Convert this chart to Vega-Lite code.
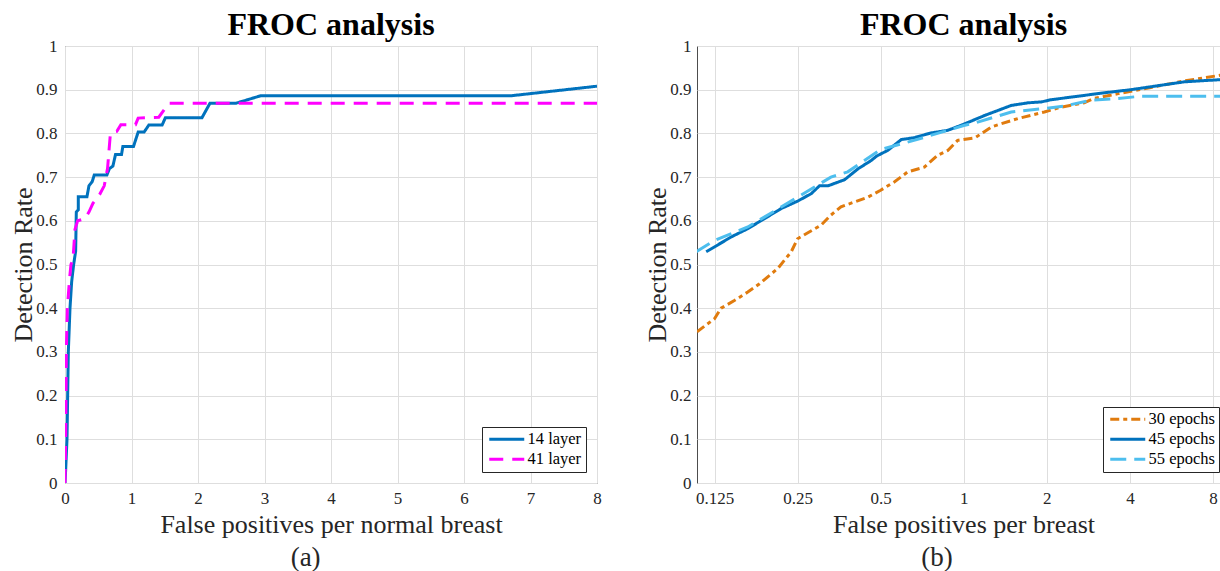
{
  "$schema": "https://vega.github.io/schema/vega-lite/v6.json",
  "padding": {"left": 9, "top": 8, "right": 0, "bottom": 0},
  "background": "white",
  "spacing": 41,
  "resolve": {
    "scale": {"x": "independent", "y": "independent", "color": "independent", "strokeDash": "independent"},
    "legend": {"color": "independent", "strokeDash": "independent"}
  },
  "config": {
    "font": "Liberation Serif",
    "view": {"stroke": "#4d4d4d", "strokeWidth": 1},
    "axis": {
      "labelFont": "Liberation Serif", "labelFontSize": 17, "labelColor": "#262626",
      "titleFont": "Liberation Serif", "titleFontWeight": "normal", "titleColor": "#262626", "titleFontSize": 26,
      "gridColor": "#dedede", "gridWidth": 1, "domain": false, "ticks": false, "labelFlush": false
    },
    "title": {"font": "Liberation Serif", "fontSize": 32, "fontWeight": "bold", "color": "black", "baseline": "alphabetic", "offset": -5},
    "legend": {
      "orient": "bottom-right", "offset": 11, "fillColor": "white", "strokeColor": "#262626",
      "padding": 4, "symbolType": "M-1,0H6", "symbolSize": 100, "symbolStrokeWidth": 3,
      "labelFont": "Liberation Serif", "labelFontSize": 16.5, "labelColor": "black", "labelOffset": 25,
      "rowPadding": 3, "title": null, "cornerRadius": 0
    }
  },
  "hconcat": [
    {
      "title": {"text": "(a)", "orient": "bottom", "anchor": "middle", "baseline": "top", "fontWeight": "normal", "fontSize": 27, "color": "#262626", "offset": 7},
      "resolve": {
        "scale": {"color": "independent", "strokeDash": "independent"},
        "legend": {"color": "independent", "strokeDash": "independent"}
      },
      "vconcat": [
        {
          "width": 532, "height": 437,
          "title": "FROC analysis",
          "data": {"values": [
            {"i":0,"model":"14 layer","fp":0,"rate":0},
            {"i":1,"model":"14 layer","fp":0.01,"rate":0.03},
            {"i":2,"model":"14 layer","fp":0.03,"rate":0.1},
            {"i":3,"model":"14 layer","fp":0.05,"rate":0.3},
            {"i":4,"model":"14 layer","fp":0.075,"rate":0.4},
            {"i":5,"model":"14 layer","fp":0.1,"rate":0.46},
            {"i":6,"model":"14 layer","fp":0.13,"rate":0.5},
            {"i":7,"model":"14 layer","fp":0.16,"rate":0.53},
            {"i":8,"model":"14 layer","fp":0.17,"rate":0.62},
            {"i":9,"model":"14 layer","fp":0.2,"rate":0.625},
            {"i":10,"model":"14 layer","fp":0.2,"rate":0.655},
            {"i":11,"model":"14 layer","fp":0.33,"rate":0.655},
            {"i":12,"model":"14 layer","fp":0.36,"rate":0.68},
            {"i":13,"model":"14 layer","fp":0.41,"rate":0.69},
            {"i":14,"model":"14 layer","fp":0.44,"rate":0.705},
            {"i":15,"model":"14 layer","fp":0.63,"rate":0.705},
            {"i":16,"model":"14 layer","fp":0.67,"rate":0.72},
            {"i":17,"model":"14 layer","fp":0.72,"rate":0.725},
            {"i":18,"model":"14 layer","fp":0.76,"rate":0.752},
            {"i":19,"model":"14 layer","fp":0.85,"rate":0.752},
            {"i":20,"model":"14 layer","fp":0.87,"rate":0.77},
            {"i":21,"model":"14 layer","fp":1.03,"rate":0.77},
            {"i":22,"model":"14 layer","fp":1.1,"rate":0.803},
            {"i":23,"model":"14 layer","fp":1.19,"rate":0.803},
            {"i":24,"model":"14 layer","fp":1.26,"rate":0.819},
            {"i":25,"model":"14 layer","fp":1.46,"rate":0.819},
            {"i":26,"model":"14 layer","fp":1.51,"rate":0.836},
            {"i":27,"model":"14 layer","fp":2.06,"rate":0.836},
            {"i":28,"model":"14 layer","fp":2.18,"rate":0.869},
            {"i":29,"model":"14 layer","fp":2.57,"rate":0.869},
            {"i":30,"model":"14 layer","fp":2.94,"rate":0.886},
            {"i":31,"model":"14 layer","fp":6.7,"rate":0.886},
            {"i":32,"model":"14 layer","fp":8,"rate":0.908},
            {"i":0,"model":"41 layer","fp":0,"rate":0},
            {"i":1,"model":"41 layer","fp":0.01,"rate":0.1},
            {"i":2,"model":"41 layer","fp":0.02,"rate":0.3},
            {"i":3,"model":"41 layer","fp":0.035,"rate":0.4},
            {"i":4,"model":"41 layer","fp":0.07,"rate":0.47},
            {"i":5,"model":"41 layer","fp":0.09,"rate":0.5},
            {"i":6,"model":"41 layer","fp":0.12,"rate":0.51},
            {"i":7,"model":"41 layer","fp":0.15,"rate":0.58},
            {"i":8,"model":"41 layer","fp":0.19,"rate":0.6},
            {"i":9,"model":"41 layer","fp":0.3,"rate":0.605},
            {"i":10,"model":"41 layer","fp":0.36,"rate":0.62},
            {"i":11,"model":"41 layer","fp":0.42,"rate":0.64},
            {"i":12,"model":"41 layer","fp":0.52,"rate":0.66},
            {"i":13,"model":"41 layer","fp":0.59,"rate":0.68},
            {"i":14,"model":"41 layer","fp":0.64,"rate":0.72},
            {"i":15,"model":"41 layer","fp":0.68,"rate":0.795},
            {"i":16,"model":"41 layer","fp":0.72,"rate":0.805},
            {"i":17,"model":"41 layer","fp":0.78,"rate":0.805},
            {"i":18,"model":"41 layer","fp":0.84,"rate":0.82},
            {"i":19,"model":"41 layer","fp":1.06,"rate":0.82},
            {"i":20,"model":"41 layer","fp":1.1,"rate":0.835},
            {"i":21,"model":"41 layer","fp":1.41,"rate":0.837},
            {"i":22,"model":"41 layer","fp":1.56,"rate":0.869},
            {"i":23,"model":"41 layer","fp":8,"rate":0.869}
          ]},
          "mark": {"type": "line", "strokeWidth": 3, "clip": true},
          "encoding": {
            "x": {"field": "fp", "type": "quantitative",
              "scale": {"domain": [0, 8], "nice": false, "zero": false},
              "axis": {"values": [0,1,2,3,4,5,6,7,8], "format": "~g", "labelFont": "Liberation Serif", "labelPadding": 7, "titlePadding": 5,
                "title": "False positives per normal breast"}},
            "y": {"field": "rate", "type": "quantitative",
              "scale": {"domain": [0, 1], "nice": false},
              "axis": {"values": [0,0.1,0.2,0.3,0.4,0.5,0.6,0.7,0.8,0.9,1], "format": "~g", "labelFont": "Liberation Serif",
                "title": "Detection Rate",
                "labelPadding": 8, "minExtent": 26, "maxExtent": 26, "titlePadding": 3}},
            "color": {"field": "model", "type": "nominal",
              "scale": {"domain": ["14 layer", "41 layer"], "range": ["#0072BD", "#FF00FF"]}},
            "strokeDash": {"field": "model", "type": "nominal",
              "scale": {"domain": ["14 layer", "41 layer"], "range": [[1, 0], [14, 9]]}},
            "order": {"field": "i", "type": "quantitative"}
          }
        }
      ]
    },
    {
      "title": {"text": "(b)", "orient": "bottom", "anchor": "middle", "baseline": "top", "fontWeight": "normal", "fontSize": 27, "color": "#262626", "offset": 7},
      "resolve": {
        "scale": {"color": "independent", "strokeDash": "independent"},
        "legend": {"color": "independent", "strokeDash": "independent"}
      },
      "vconcat": [
        {
          "width": 533, "height": 437,
          "title": "FROC analysis",
          "data": {"values": [
            {"i":0,"model":"30 epochs","fp":0.108,"rate":0.346},
            {"i":1,"model":"30 epochs","fp":0.125,"rate":0.376},
            {"i":2,"model":"30 epochs","fp":0.132,"rate":0.4},
            {"i":3,"model":"30 epochs","fp":0.148,"rate":0.418},
            {"i":4,"model":"30 epochs","fp":0.165,"rate":0.437},
            {"i":5,"model":"30 epochs","fp":0.182,"rate":0.456},
            {"i":6,"model":"30 epochs","fp":0.212,"rate":0.491},
            {"i":7,"model":"30 epochs","fp":0.237,"rate":0.529},
            {"i":8,"model":"30 epochs","fp":0.25,"rate":0.559},
            {"i":9,"model":"30 epochs","fp":0.304,"rate":0.59},
            {"i":10,"model":"30 epochs","fp":0.33,"rate":0.613},
            {"i":11,"model":"30 epochs","fp":0.359,"rate":0.632},
            {"i":12,"model":"30 epochs","fp":0.449,"rate":0.654},
            {"i":13,"model":"30 epochs","fp":0.5,"rate":0.67},
            {"i":14,"model":"30 epochs","fp":0.56,"rate":0.689},
            {"i":15,"model":"30 epochs","fp":0.627,"rate":0.712},
            {"i":16,"model":"30 epochs","fp":0.72,"rate":0.723},
            {"i":17,"model":"30 epochs","fp":0.805,"rate":0.75},
            {"i":18,"model":"30 epochs","fp":0.875,"rate":0.761},
            {"i":19,"model":"30 epochs","fp":0.95,"rate":0.784},
            {"i":20,"model":"30 epochs","fp":1.1,"rate":0.79},
            {"i":21,"model":"30 epochs","fp":1.26,"rate":0.815},
            {"i":22,"model":"30 epochs","fp":1.57,"rate":0.834},
            {"i":23,"model":"30 epochs","fp":1.96,"rate":0.849},
            {"i":24,"model":"30 epochs","fp":2.25,"rate":0.86},
            {"i":25,"model":"30 epochs","fp":2.73,"rate":0.87},
            {"i":26,"model":"30 epochs","fp":2.96,"rate":0.88},
            {"i":27,"model":"30 epochs","fp":3.63,"rate":0.891},
            {"i":28,"model":"30 epochs","fp":4.77,"rate":0.905},
            {"i":29,"model":"30 epochs","fp":6.3,"rate":0.92},
            {"i":30,"model":"30 epochs","fp":8.5,"rate":0.933},
            {"i":31,"model":"30 epochs","fp":9.3,"rate":0.937},
            {"i":0,"model":"45 epochs","fp":0.1166,"rate":0.529},
            {"i":1,"model":"45 epochs","fp":0.1436,"rate":0.563},
            {"i":2,"model":"45 epochs","fp":0.165,"rate":0.582},
            {"i":3,"model":"45 epochs","fp":0.218,"rate":0.628},
            {"i":4,"model":"45 epochs","fp":0.25,"rate":0.645},
            {"i":5,"model":"45 epochs","fp":0.28,"rate":0.662},
            {"i":6,"model":"45 epochs","fp":0.3,"rate":0.68},
            {"i":7,"model":"45 epochs","fp":0.322,"rate":0.68},
            {"i":8,"model":"45 epochs","fp":0.37,"rate":0.694},
            {"i":9,"model":"45 epochs","fp":0.414,"rate":0.719},
            {"i":10,"model":"45 epochs","fp":0.462,"rate":0.738},
            {"i":11,"model":"45 epochs","fp":0.483,"rate":0.748},
            {"i":12,"model":"45 epochs","fp":0.53,"rate":0.761},
            {"i":13,"model":"45 epochs","fp":0.594,"rate":0.786},
            {"i":14,"model":"45 epochs","fp":0.66,"rate":0.79},
            {"i":15,"model":"45 epochs","fp":0.76,"rate":0.801},
            {"i":16,"model":"45 epochs","fp":0.875,"rate":0.807},
            {"i":17,"model":"45 epochs","fp":1.0,"rate":0.821},
            {"i":18,"model":"45 epochs","fp":1.19,"rate":0.841},
            {"i":19,"model":"45 epochs","fp":1.486,"rate":0.864},
            {"i":20,"model":"45 epochs","fp":1.71,"rate":0.87},
            {"i":21,"model":"45 epochs","fp":1.91,"rate":0.872},
            {"i":22,"model":"45 epochs","fp":2.07,"rate":0.877},
            {"i":23,"model":"45 epochs","fp":2.59,"rate":0.885},
            {"i":24,"model":"45 epochs","fp":3.14,"rate":0.892},
            {"i":25,"model":"45 epochs","fp":4.03,"rate":0.9},
            {"i":26,"model":"45 epochs","fp":6.3,"rate":0.918},
            {"i":27,"model":"45 epochs","fp":8.5,"rate":0.923},
            {"i":28,"model":"45 epochs","fp":9.3,"rate":0.925},
            {"i":0,"model":"55 epochs","fp":0.107,"rate":0.529},
            {"i":1,"model":"55 epochs","fp":0.125,"rate":0.555},
            {"i":2,"model":"55 epochs","fp":0.165,"rate":0.586},
            {"i":3,"model":"55 epochs","fp":0.19,"rate":0.609},
            {"i":4,"model":"55 epochs","fp":0.25,"rate":0.654},
            {"i":5,"model":"55 epochs","fp":0.33,"rate":0.7},
            {"i":6,"model":"55 epochs","fp":0.38,"rate":0.712},
            {"i":7,"model":"55 epochs","fp":0.5,"rate":0.763},
            {"i":8,"model":"55 epochs","fp":0.66,"rate":0.784},
            {"i":9,"model":"55 epochs","fp":0.875,"rate":0.807},
            {"i":10,"model":"55 epochs","fp":1.0,"rate":0.818},
            {"i":11,"model":"55 epochs","fp":1.1,"rate":0.824},
            {"i":12,"model":"55 epochs","fp":1.486,"rate":0.849},
            {"i":13,"model":"55 epochs","fp":1.96,"rate":0.857},
            {"i":14,"model":"55 epochs","fp":2.33,"rate":0.863},
            {"i":15,"model":"55 epochs","fp":2.89,"rate":0.876},
            {"i":16,"model":"55 epochs","fp":3.63,"rate":0.88},
            {"i":17,"model":"55 epochs","fp":4.37,"rate":0.885},
            {"i":18,"model":"55 epochs","fp":9.3,"rate":0.885}
          ]},
          "mark": {"type": "line", "strokeWidth": 3, "clip": true},
          "encoding": {
            "x": {"field": "fp", "type": "quantitative",
              "scale": {"type": "log", "base": 2, "domain": [0.108, 9.22], "nice": false},
              "axis": {"values": [0.125,0.25,0.5,1,2,4,8], "format": "~g", "labelFont": "Liberation Serif", "labelPadding": 7, "titlePadding": 5,
                "title": "False positives per breast"}},
            "y": {"field": "rate", "type": "quantitative",
              "scale": {"domain": [0, 1], "nice": false},
              "axis": {"values": [0,0.1,0.2,0.3,0.4,0.5,0.6,0.7,0.8,0.9,1], "format": "~g", "labelFont": "Liberation Serif",
                "title": "Detection Rate",
                "labelPadding": 6, "minExtent": 26, "maxExtent": 26, "titlePadding": 1}},
            "color": {"field": "model", "type": "nominal",
              "scale": {"domain": ["30 epochs", "45 epochs", "55 epochs"], "range": ["#E07B0E", "#0072BD", "#4DBEEE"]}},
            "strokeDash": {"field": "model", "type": "nominal",
              "scale": {"domain": ["30 epochs", "45 epochs", "55 epochs"], "range": [[9, 4, 4, 4], [1, 0], [16, 8]]}},
            "order": {"field": "i", "type": "quantitative"}
          }
        }
      ]
    }
  ]
}
